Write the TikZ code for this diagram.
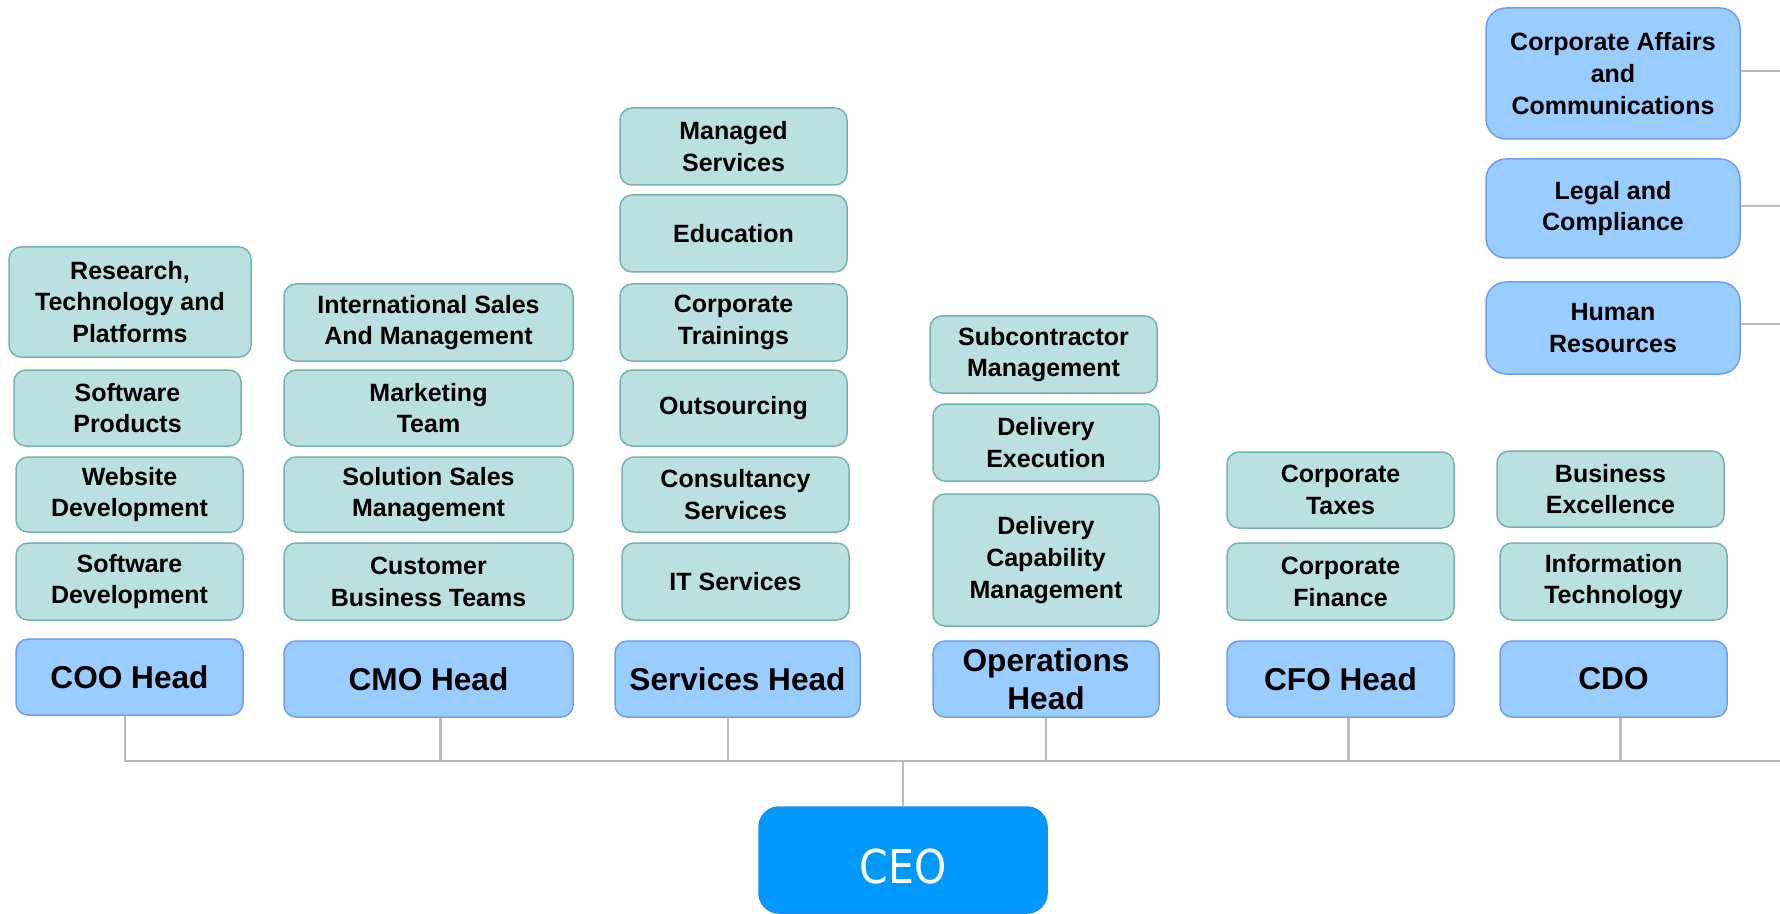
\documentclass[tikz,border=0pt]{standalone}
\usepackage{fontspec}
\setmainfont{Liberation Sans}
\newfontfamily\ceofont[FakeStretch=0.88]{DejaVu Sans}
\usetikzlibrary{calc}
\definecolor{subfill}{HTML}{BAE0E1}
\definecolor{subline}{HTML}{74B3B1}
\definecolor{headfill}{HTML}{99CCFF}
\definecolor{headline}{HTML}{6E9CF7}
\definecolor{ceofill}{HTML}{0099FF}
\definecolor{ceoline}{HTML}{1A8EEA}
\definecolor{conn}{HTML}{BBBBBB}
\newcommand\subfnt{\fontsize{12.5}{15.9}\selectfont\bfseries}
\newcommand\headfnt{\fontsize{15.8}{18.8}\selectfont\bfseries}
% \obox{name}{style}{x1}{y1}{x2}{y2}{text}
\newcommand\obox[7]{\node[#2, minimum width={(#5-#3)*0.5pt}, minimum height={(#6-#4)*0.5pt}] (#1) at ({(#3+#5)/2},{(#4+#6)/2}) {#7};}
\tikzset{
  sub/.style={draw=subline, fill=subfill, rounded corners=6pt, line width=0.75pt, align=center, font=\subfnt, inner sep=0pt, text=black},
  head/.style={draw=headline, fill=headfill, rounded corners=6pt, line width=0.75pt, align=center, font=\headfnt, inner sep=0pt, text=black},
  side/.style={draw=headline, fill=headfill, rounded corners=10pt, line width=0.75pt, align=center, font=\subfnt, inner sep=0pt, text=black},
  ceobox/.style={draw=ceoline, fill=ceofill, rounded corners=10pt, line width=0.75pt, inner sep=0pt},
  ceotext/.style={font={\ceofont\fontsize{23.3}{28}\selectfont}, text=white, inner sep=0pt},
  conline/.style={draw=conn, line width=1.1pt}
}
\begin{document}
\begin{tikzpicture}[x=0.5pt,y=-0.5pt]
\clip (0,0) rectangle (1780,914);
\fill[white] (0,0) rectangle (1780,914);
% column 1
\obox{rtp}{sub}{9}{247}{251}{357}{Research,\\Technology and\\Platforms}
\obox{swp}{sub}{14}{370}{241}{446}{Software\\Products}
\obox{web}{sub}{16}{457}{243}{532}{Website\\Development}
\obox{swd}{sub}{16}{543}{243}{620}{Software\\Development}
\obox{coo}{head}{16}{639}{243}{715}{COO Head}
% column 2
\obox{isam}{sub}{284}{284}{573}{361}{International Sales\\And Management}
\obox{mkt}{sub}{284}{370}{573}{446}{Marketing\\Team}
\obox{ssm}{sub}{284}{457}{573}{532}{Solution Sales\\Management}
\obox{cbt}{sub}{284}{543}{573}{620}{Customer\\Business Teams}
\obox{cmo}{head}{284}{641}{573}{717}{CMO Head}
% column 3
\obox{mgd}{sub}{620}{108}{847}{185}{Managed\\Services}
\obox{edu}{sub}{620}{195}{847}{272}{Education}
\obox{ctr}{sub}{620}{284}{847}{361}{Corporate\\Trainings}
\obox{outs}{sub}{620}{370}{847}{446}{Outsourcing}
\obox{cons}{sub}{622}{457}{849}{532}{Consultancy\\Services}
\obox{its}{sub}{622}{543}{849}{620}{IT Services}
\obox{svc}{head}{615}{641}{860}{717}{Services Head}
% column 4
\obox{subm}{sub}{930}{316}{1157}{393}{Subcontractor\\Management}
\obox{dex}{sub}{933}{404}{1159}{481}{Delivery\\Execution}
\obox{dcm}{sub}{933}{494}{1159}{626}{Delivery\\Capability\\Management}
\obox{ops}{head}{933}{641}{1159}{717}{Operations\\Head}
% column 5
\obox{tax}{sub}{1227}{452}{1454}{528}{Corporate\\Taxes}
\obox{fin}{sub}{1227}{543}{1454}{620}{Corporate\\Finance}
\obox{cfo}{head}{1227}{641}{1454}{717}{CFO Head}
% column 6
\obox{bex}{sub}{1497}{451}{1724}{527}{Business\\Excellence}
\obox{itx}{sub}{1500}{543}{1727}{620}{Information\\Technology}
\obox{cdo}{head}{1500}{641}{1727}{717}{CDO}
\obox{caf}{side}{1486}{8}{1740}{139}{Corporate Affairs\\and\\Communications}
\obox{leg}{side}{1486}{159}{1740}{258}{Legal and\\Compliance}
\obox{hr}{side}{1486}{282}{1740}{374}{Human\\Resources}
% CEO
\obox{ceo}{ceobox}{759}{807}{1047}{913}{}
\node[ceotext] (ceot) at ($(ceo.center)+(0,7)$) {CEO};
% connectors
\coordinate (busl) at (125,761);
\coordinate (busr) at (1780,761);
\coordinate (redge) at (1780,0);
\coordinate (cooa) at ($(coo.south)+(-4.5,0)$);
\coordinate (cmoa) at ($(cmo.south)+(12,0)$);
\coordinate (svca) at ($(svc.south)+(-9.5,0)$);
\coordinate (cfoa) at ($(cfo.south)+(8,0)$);
\coordinate (cdoa) at ($(cdo.south)+(7,0)$);
\coordinate (cafa) at ($(caf.east)+(0,-2.5)$);
\coordinate (lega) at ($(leg.east)+(0,-2.5)$);
\coordinate (hra) at ($(hr.east)+(0,-4)$);
\draw[conline] (cooa) |- (busr);
\draw[conline] (cmoa) -- (cmoa |- busl);
\draw[conline] (svca) -- (svca |- busl);
\draw[conline] (ops.south) -- (ops.south |- busl);
\draw[conline] (cfoa) -- (cfoa |- busl);
\draw[conline] (cdoa) -- (cdoa |- busl);
\draw[conline] (ceo.north) -- (ceo.north |- busl);
\draw[conline] (cafa) -- (cafa -| redge);
\draw[conline] (lega) -- (lega -| redge);
\draw[conline] (hra) -- (hra -| redge);
\end{tikzpicture}
\end{document}
